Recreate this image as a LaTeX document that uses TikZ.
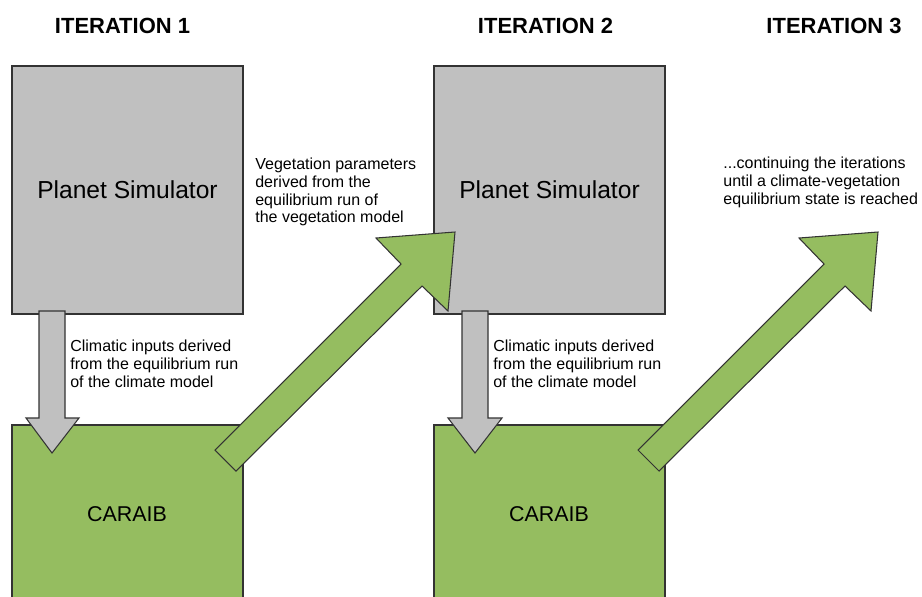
\documentclass[tikz,border=0pt]{standalone}
\usepackage{fontspec}
\setmainfont{Liberation Sans}
\usepackage{tikz}
\definecolor{simGrey}{RGB}{192,192,192}
\definecolor{vegGreen}{RGB}{149,189,96}
\tikzset{
  simbox/.style={fill=simGrey,draw=black!80,line width=0.6pt},
  vegbox/.style={fill=vegGreen,draw=black!80,line width=0.6pt},
  boxlabel/.style={font=\fontsize{14}{16}\selectfont},
  iterlabel/.style={font=\fontsize{12.5}{15}\selectfont\bfseries},
  note/.style={font=\fontsize{9.1}{10}\selectfont,align=left,anchor=north west,inner sep=0pt}
}
\begin{document}
\begin{tikzpicture}[x=0.02cm,y=-0.02cm]
\useasboundingbox (0,0) rectangle (922,596);
% iteration headings
\node[iterlabel] (iter1) at (122.5,26) {ITERATION 1};
\node[iterlabel] (iter2) at (545.5,26) {ITERATION 2};
\node[iterlabel] (iter3) at (834,26) {ITERATION 3};
% boxes
\draw[simbox] (12,66) rectangle (243,314);
\draw[vegbox] (12,425) rectangle (243,600);
\draw[simbox] (434,66) rectangle (665,314);
\draw[vegbox] (434,425) rectangle (665,600);
\node[boxlabel] (ps1) at (127.5,190) {Planet Simulator};
\node[boxlabel,font=\fontsize{12.2}{15}\selectfont] (caraib1) at (127,514) {CARAIB};
\node[boxlabel] (ps2) at (549.5,190) {Planet Simulator};
\node[boxlabel,font=\fontsize{12.2}{15}\selectfont] (caraib2) at (549,514) {CARAIB};
% green arrows
\draw[vegbox] (215,450) -- (401,264) -- (376,238) -- (455,232) -- (448,311) -- (422,286) -- (236,471) -- cycle;
\draw[vegbox] (638,450) -- (824,264) -- (799,238) -- (878,232) -- (871,311) -- (845,286) -- (659,471) -- cycle;
% grey arrows
\draw[simbox] (39,311) -- (39,418) -- (26,418) -- (52,453) -- (79,418) -- (65,418) -- (65,311) -- cycle;
\draw[simbox] (462,311) -- (462,418) -- (448,418) -- (475,453) -- (502,418) -- (488,418) -- (488,311) -- cycle;
% notes
\node[note] (clim1) at (70,340) {Climatic inputs derived\\from the equilibrium run\\of the climate model};
\node[note] (clim2) at (493,340) {Climatic inputs derived\\from the equilibrium run\\of the climate model};
\node[note] (veg) at (255,158) {Vegetation parameters\\derived from the\\equilibrium run of\\the vegetation model};
\node[note] (cont) at (723,157) {...continuing the iterations\\until a climate-vegetation\\equilibrium state is reached};
\end{tikzpicture}
\end{document}
